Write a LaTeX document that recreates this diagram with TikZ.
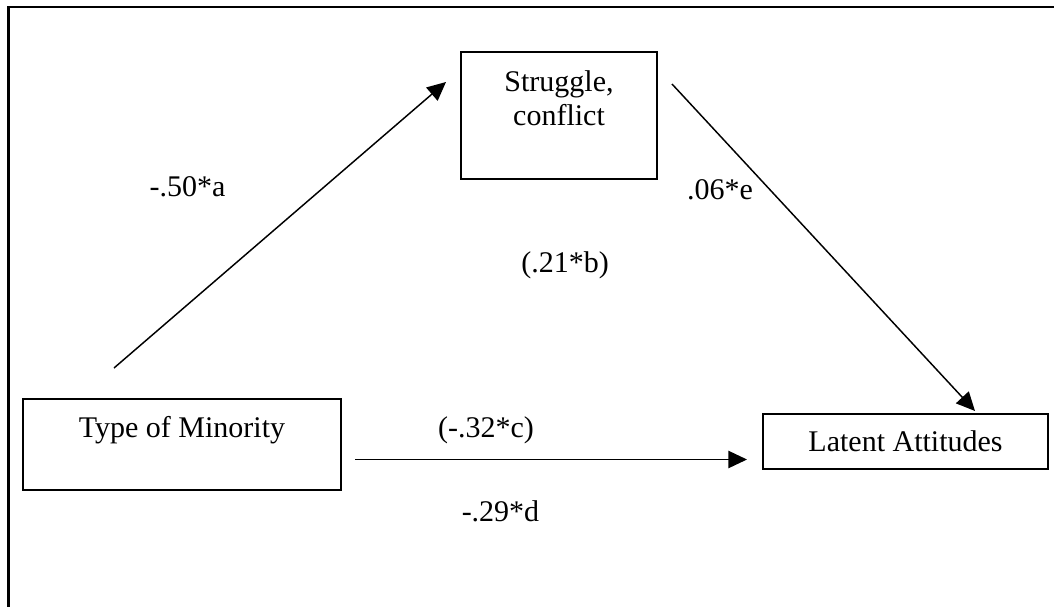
\documentclass[tikz,border=0pt]{standalone}
\usepackage{fontspec}
\setmainfont{Liberation Serif}
\usepackage{tikz}
\usetikzlibrary{arrows.meta}
\usetikzlibrary{positioning}
\tikzset{
  myarrow/.style={
    draw=black,
    line width=1.1pt,
    -{Triangle[length=14pt,width=13pt]},
  },
  myrectangle/.style={
    draw=black,
    shape=rectangle,
    line width=1.1pt,
    align=center,
    inner sep=0pt,
    font=\fontsize{22.5}{25}\selectfont
  },
  mylabel/.style={
    inner sep=0pt,
    font=\fontsize{22.5}{25}\selectfont
  }
}

\begin{document}
\begin{tikzpicture}[x=0.75pt,y=-0.75pt]
    \useasboundingbox (0,0) rectangle (1054,607);
    \draw[line width=1.9pt] (1054,7) -- (8.5,7) -- (8.5,607);

    \node[myrectangle, minimum width=147pt, minimum height=95.25pt, text depth=26pt]    (struggle) at (559,115.5)   {Struggle,\\conflict};
    \node[myrectangle, minimum width=238.5pt, minimum height=68.25pt, text depth=26.6pt] (minority) at (182,444.5)   {Type of Minority};
    \node[myrectangle, minimum width=213.75pt, minimum height=41.25pt]                  (latent)   at (905.5,441.5) {Latent Attitudes};

    \coordinate (astart) at (114,368);
    \coordinate (aend)   at (446,82);
    \coordinate (estart) at (672,84);
    \coordinate (eend)   at (975,411);
    \coordinate (cstart) at (355,459.5);
    \coordinate (cend)   at (747,459.5);

    \draw[myarrow] (astart) -- (aend);
    \draw[myarrow] (estart) -- (eend);
    \draw[myarrow] (cstart) -- (cend);

    \node[mylabel] (pa) at (187.5,187) {-.50*a};
    \node[mylabel] (pe) at (720,190)   {.06*e};
    \node[mylabel] (pb) at (565,265.5) {(.21*b)};
    \node[mylabel] (pc) at (486,430.5) {(-.32*c)};
    \node[mylabel] (pd) at (500.5,511) {-.29*d};
  \end{tikzpicture}
\end{document}
